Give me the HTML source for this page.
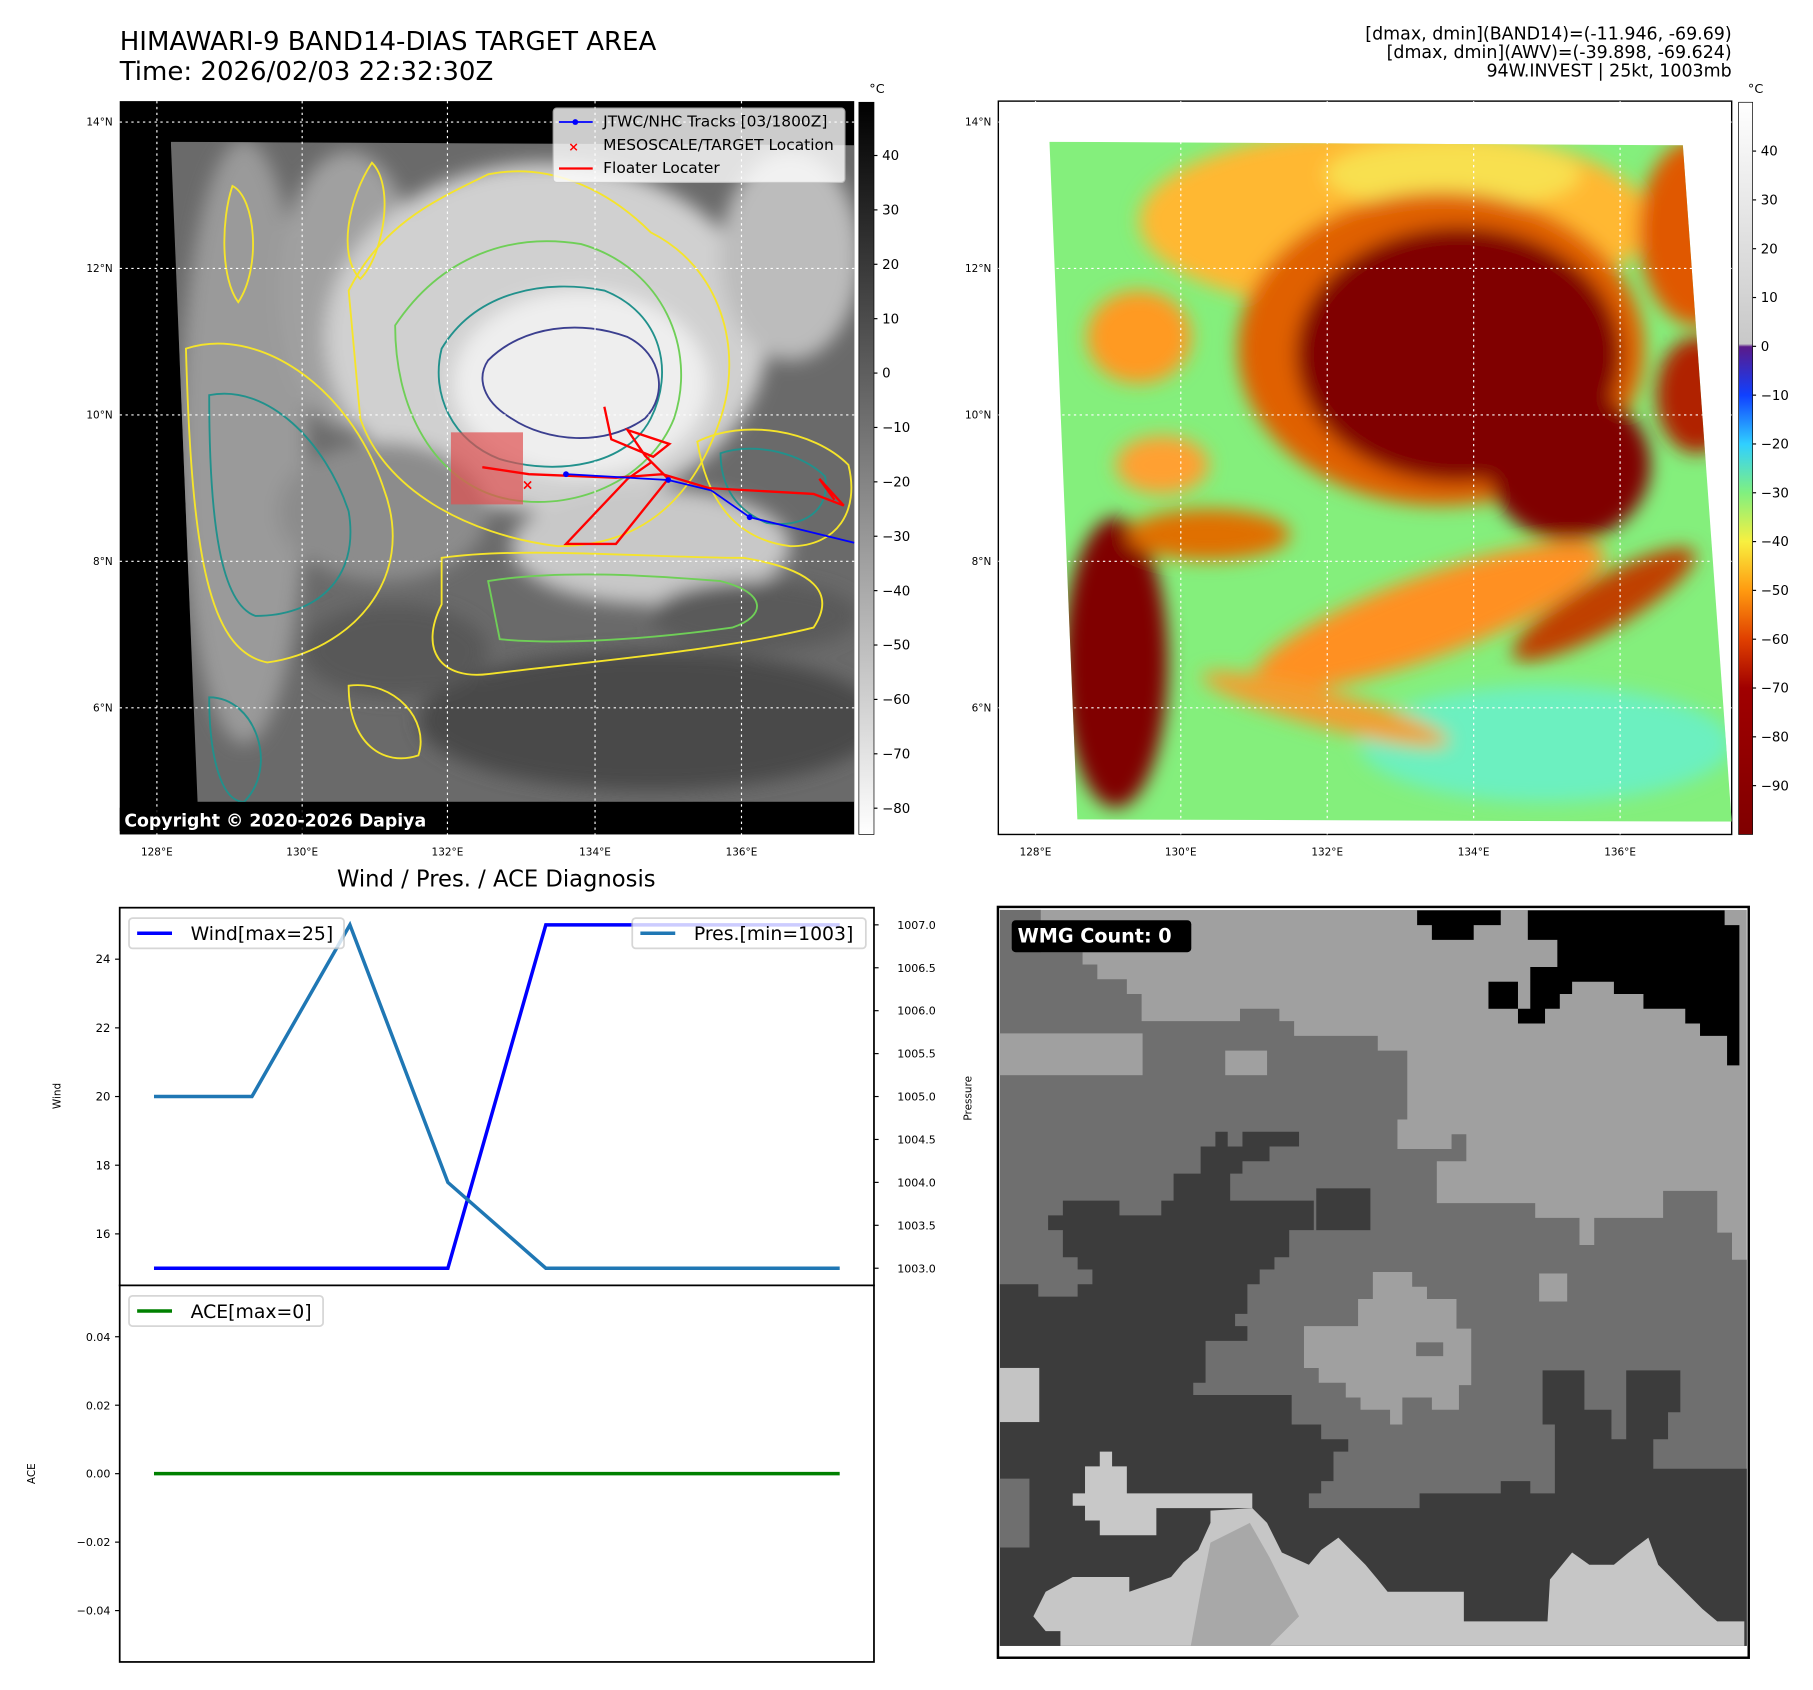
<!DOCTYPE html>
<html><head><meta charset="utf-8"><style>
html,body{margin:0;padding:0;background:#fff}
svg{display:block;font-family:"DejaVu Sans","Liberation Sans",sans-serif}
</style></head><body>
<svg id="root" width="1813" height="1690" viewBox="0 0 1813 1690">
<defs>
<filter id="blur8" x="-20%" y="-20%" width="140%" height="140%"><feGaussianBlur stdDeviation="8"/></filter>
<clipPath id="clipL"><polygon points="147,122 735,125 735,690 170,690"/></clipPath>
<clipPath id="clipR"><polygon points="903,122 1448,125 1490,707 927,705"/></clipPath>
<linearGradient id="cbL" x1="0" y1="0" x2="0" y2="1"><stop offset="0" stop-color="#000"/><stop offset="1" stop-color="#fff"/></linearGradient>
<linearGradient id="cbR" x1="0" y1="0" x2="0" y2="1">
<stop offset="0" stop-color="#ffffff"/><stop offset="0.33" stop-color="#c8c8c8"/>
<stop offset="0.334" stop-color="#5a1a8a"/><stop offset="0.4" stop-color="#1040ff"/>
<stop offset="0.467" stop-color="#30d0ff"/><stop offset="0.533" stop-color="#80f080"/>
<stop offset="0.6" stop-color="#f8f040"/><stop offset="0.667" stop-color="#ff9a10"/>
<stop offset="0.733" stop-color="#e04000"/><stop offset="0.8" stop-color="#a00000"/>
<stop offset="1" stop-color="#800000"/></linearGradient>
</defs>
<g transform="scale(1.1622)">
<text x="103" y="43" font-size="22.4">HIMAWARI-9 BAND14-DIAS TARGET AREA</text>
<text x="103" y="69" font-size="22.4">Time: 2026/02/03 22:32:30Z</text>
<g font-size="15" text-anchor="end">
<text x="1490" y="34">[dmax, dmin](BAND14)=(-11.946, -69.69)</text>
<text x="1490" y="50">[dmax, dmin](AWV)=(-39.898, -69.624)</text>
<text x="1490" y="66">94W.INVEST | 25kt, 1003mb</text>
</g>

<!-- LEFT MAP -->
<g>
<rect x="103" y="87" width="632" height="631" fill="#000"/>
<g clip-path="url(#clipL)">
<rect x="140" y="110" width="600" height="600" fill="#6a6a6a"/>
<g filter="url(#blur8)">
<ellipse cx="210" cy="380" rx="55" ry="260" fill="#9a9a9a"/>
<ellipse cx="300" cy="250" rx="60" ry="120" fill="#a0a0a0"/>
<ellipse cx="470" cy="290" rx="190" ry="150" fill="#d0d0d0"/>
<ellipse cx="500" cy="330" rx="110" ry="80" fill="#eeeeee"/>
<ellipse cx="680" cy="220" rx="60" ry="90" fill="#bcbcbc"/>
<ellipse cx="560" cy="470" rx="120" ry="50" fill="#c8c8c8"/>
<ellipse cx="330" cy="440" rx="90" ry="60" fill="#8c8c8c"/>
<ellipse cx="560" cy="620" rx="200" ry="60" fill="#484848"/>
<ellipse cx="340" cy="560" rx="80" ry="40" fill="#585858"/>
<ellipse cx="650" cy="530" rx="90" ry="30" fill="#5a5a5a"/>
</g>
<g fill="none" stroke-width="1.6">
<path d="M300,250 C330,190 380,170 420,150 C470,140 520,160 560,200 C620,230 640,300 620,360 C600,420 560,470 480,470 C400,460 330,420 310,360 Z" stroke="#f5e42a"/>
<path d="M340,280 C380,220 440,200 500,210 C570,230 600,300 580,360 C560,410 500,440 440,430 C380,420 340,360 340,280 Z" stroke="#6fcf57"/>
<path d="M380,300 C410,250 470,240 520,250 C570,270 580,320 560,360 C540,400 480,410 430,395 C390,380 370,340 380,300 Z" stroke="#21918c"/>
<path d="M420,310 C450,280 500,275 540,290 C570,305 575,340 555,360 C520,385 470,380 440,360 C415,345 410,325 420,310 Z" stroke="#3b3f8f"/>
<path d="M160,300 C220,280 300,330 330,420 C360,500 300,560 230,570 C180,560 165,480 160,300 Z" stroke="#f5e42a"/>
<path d="M180,340 C230,330 280,380 300,440 C310,500 270,530 220,530 C190,520 180,450 180,340 Z" stroke="#21918c"/>
<path d="M380,480 C450,470 560,480 640,480 C700,490 720,510 700,540 C620,560 500,570 420,580 C380,585 360,560 380,520 Z" stroke="#f5e42a"/>
<path d="M420,500 C480,490 560,495 620,500 C660,510 660,530 630,540 C560,550 480,555 430,550 Z" stroke="#6fcf57"/>
<path d="M600,380 C640,360 700,370 730,400 C740,440 720,470 680,470 C640,465 610,440 600,380 Z" stroke="#f5e42a"/>
<path d="M620,390 C650,380 690,390 710,410 C715,440 690,455 660,450 C635,440 620,420 620,390 Z" stroke="#21918c"/>
<path d="M300,590 C340,585 370,620 360,650 C330,660 300,640 300,590 Z" stroke="#f5e42a"/>
<path d="M180,600 C220,600 240,660 210,690 C190,690 180,650 180,600 Z" stroke="#21918c"/>
<path d="M320,140 C340,160 330,220 310,240 C290,220 300,170 320,140 Z" stroke="#f5e42a"/>
<path d="M200,160 C220,170 225,230 205,260 C190,240 190,190 200,160 Z" stroke="#f5e42a"/>
</g>
</g>
<g stroke="#fff" stroke-width="1" stroke-dasharray="2,3">
<line x1="135" y1="87" x2="135" y2="718"/><line x1="260" y1="87" x2="260" y2="718"/><line x1="385" y1="87" x2="385" y2="718"/><line x1="512" y1="87" x2="512" y2="718"/><line x1="638" y1="87" x2="638" y2="718"/>
<line x1="103" y1="105" x2="735" y2="105"/><line x1="103" y1="231" x2="735" y2="231"/><line x1="103" y1="357" x2="735" y2="357"/><line x1="103" y1="483" x2="735" y2="483"/><line x1="103" y1="609" x2="735" y2="609"/>
</g>
<rect x="388" y="372" width="62" height="62" fill="#e05050" opacity="0.7"/>
<polyline points="415,402 455,408 530,411 570,408 610,420 700,425 726,435 705,412 718,430" fill="none" stroke="#f00" stroke-width="2"/>
<polyline points="520,350 526,378 562,393 576,382 540,370 555,392 575,412 530,468 487,468 540,412 560,398" fill="none" stroke="#f00" stroke-width="2"/>
<polyline points="487,408 575,413 612,422 645,445 735,467" fill="none" stroke="#00f" stroke-width="1.5"/>
<circle cx="487" cy="408" r="2.5" fill="#00f"/><circle cx="575" cy="413" r="2.5" fill="#00f"/><circle cx="645" cy="445" r="2.5" fill="#00f"/>
<text x="449" y="421" fill="#f00" font-size="12" font-weight="bold">×</text>
<rect x="103" y="695" width="270" height="20" fill="#000" opacity="0.8"/>
<text x="107" y="711" fill="#fff" font-size="14.9" font-weight="bold">Copyright © 2020-2026 Dapiya</text>
<g>
<rect x="476" y="93" width="251" height="64" rx="3" fill="#fff" opacity="0.8" stroke="#ccc"/>
<line x1="481" y1="105" x2="510" y2="105" stroke="#00f" stroke-width="1.5"/><circle cx="495" cy="105" r="2.5" fill="#00f"/>
<text x="519" y="109" font-size="13.3">JTWC/NHC Tracks [03/1800Z]</text>
<text x="489" y="130" font-size="11" fill="#f00" font-weight="bold">×</text>
<text x="519" y="129" font-size="13.3">MESOSCALE/TARGET Location</text>
<line x1="481" y1="145" x2="510" y2="145" stroke="#f00" stroke-width="2"/>
<text x="519" y="149" font-size="13.3">Floater Locater</text>
</g>
</g>
<g font-size="9">
<g text-anchor="middle"><text x="135" y="736">128°E</text><text x="260" y="736">130°E</text><text x="385" y="736">132°E</text><text x="512" y="736">134°E</text><text x="638" y="736">136°E</text></g>
<g text-anchor="end"><text x="97" y="108">14°N</text><text x="97" y="234">12°N</text><text x="97" y="360">10°N</text><text x="97" y="486">8°N</text><text x="97" y="612">6°N</text></g>
</g>
<g>
<rect x="739" y="88" width="13" height="630" fill="url(#cbL)" stroke="#000" stroke-width="0.6"/>
<text x="748" y="80" font-size="11">°C</text>
<g font-size="11.5" id="cbLticks"></g>
</g>

<!-- RIGHT MAP -->
<g>
<rect x="859" y="87" width="631" height="631" fill="#fff" stroke="#000" stroke-width="1.2"/>
<g clip-path="url(#clipR)">
<rect x="900" y="110" width="600" height="610" fill="#84ef7c"/>
<g filter="url(#blur8)">
<ellipse cx="1330" cy="640" rx="160" ry="50" fill="#6cf0c0"/>
<ellipse cx="1200" cy="190" rx="220" ry="80" fill="#ffb830"/>
<ellipse cx="1250" cy="150" rx="110" ry="30" fill="#f8e050"/>
<ellipse cx="980" cy="290" rx="45" ry="40" fill="#ff9a20"/>
<ellipse cx="1000" cy="400" rx="40" ry="25" fill="#ffa030"/>
<ellipse cx="1240" cy="300" rx="175" ry="135" fill="#e06000"/>
<ellipse cx="1255" cy="305" rx="140" ry="110" fill="#800000"/>
<ellipse cx="1350" cy="400" rx="70" ry="65" fill="#800000"/>
<ellipse cx="1460" cy="200" rx="50" ry="80" fill="#e05800"/>
<ellipse cx="1460" cy="340" rx="35" ry="50" fill="#b02000"/>
<ellipse cx="1230" cy="530" rx="160" ry="35" fill="#ff9020" transform="rotate(-20 1230 530)"/>
<ellipse cx="1140" cy="610" rx="110" ry="16" fill="#f0a030" transform="rotate(15 1140 610)"/>
<ellipse cx="960" cy="570" rx="45" ry="125" fill="#800000"/>
<ellipse cx="1040" cy="460" rx="70" ry="22" fill="#e07000"/>
<ellipse cx="1380" cy="520" rx="90" ry="22" fill="#c04000" transform="rotate(-30 1380 520)"/>
</g>
</g>
<g stroke="#fff" stroke-width="1" stroke-dasharray="2,3">
<line x1="891" y1="87" x2="891" y2="718"/><line x1="1016" y1="87" x2="1016" y2="718"/><line x1="1142" y1="87" x2="1142" y2="718"/><line x1="1268" y1="87" x2="1268" y2="718"/><line x1="1394" y1="87" x2="1394" y2="718"/>
<line x1="859" y1="105" x2="1490" y2="105"/><line x1="859" y1="231" x2="1490" y2="231"/><line x1="859" y1="357" x2="1490" y2="357"/><line x1="859" y1="483" x2="1490" y2="483"/><line x1="859" y1="609" x2="1490" y2="609"/>
</g>
</g>
<g font-size="9">
<g text-anchor="middle"><text x="891" y="736">128°E</text><text x="1016" y="736">130°E</text><text x="1142" y="736">132°E</text><text x="1268" y="736">134°E</text><text x="1394" y="736">136°E</text></g>
<g text-anchor="end"><text x="853" y="108">14°N</text><text x="853" y="234">12°N</text><text x="853" y="360">10°N</text><text x="853" y="486">8°N</text><text x="853" y="612">6°N</text></g>
</g>
<g>
<rect x="1496" y="88" width="12" height="630" fill="url(#cbR)" stroke="#000" stroke-width="0.6"/>
<text x="1504" y="80" font-size="11">°C</text>
<g font-size="11.5" id="cbRticks"></g>
</g>

<text x="427" y="763" font-size="19.5" text-anchor="middle">Wind / Pres. / ACE Diagnosis</text>
<g id="chart"></g>
</g>

<!-- BOTTOM RIGHT WMG PANEL -->
<g transform="translate(994,903) scale(0.492)">
<rect x="8" y="8" width="1526" height="1526" fill="#fff" stroke="#000" stroke-width="5"/>
<rect x="12" y="14" width="1518" height="1496" fill="#a0a0a0"/>
<polygon fill="#6f6f6f" points="12,14 95,14 95,100 180,100 180,125 210,125 210,155 270,155 270,185 300,185 300,240 500,240 500,215 580,215 580,240 610,240 610,270 780,270 780,300 840,300 840,440 820,440 820,500 930,500 930,470 960,470 960,525 900,525 900,610 1100,610 1100,640 1190,640 1190,695 1220,695 1220,640 1360,640 1360,585 1470,585 1470,670 1500,670 1500,725 1530,725 1530,1510 12,1510"/>
<rect x="12" y="265" width="290" height="85" fill="#a0a0a0"/>
<rect x="470" y="300" width="85" height="50" fill="#a0a0a0"/>
<polygon fill="#a0a0a0" points="630,860 740,860 740,805 770,805 770,750 850,750 850,780 880,780 880,805 940,805 940,865 970,865 970,980 945,980 945,1030 890,1030 890,1005 830,1005 830,1060 805,1060 805,1030 745,1030 745,1005 715,1005 715,975 660,975 660,945 630,945"/>
<rect x="858" y="893" width="55" height="28" fill="#6f6f6f"/>
<rect x="1108" y="753" width="57" height="57" fill="#a0a0a0"/>
<polygon fill="#3c3c3c" points="12,775 90,775 90,800 170,800 170,775 200,775 200,745 170,745 170,720 140,720 140,665 110,665 110,635 140,635 140,605 255,605 255,635 340,635 340,605 365,605 365,550 420,550 420,495 450,495 450,465 475,465 475,495 505,495 505,465 620,465 620,495 560,495 560,525 505,525 505,550 480,550 480,605 650,605 650,665 600,665 600,720 570,720 570,745 540,745 540,775 515,775 515,835 490,835 490,860 515,860 515,890 430,890 430,975 405,975 405,1000 605,1000 605,1060 665,1060 665,1090 720,1090 720,1115 690,1115 690,1175 665,1175 665,1200 640,1200 640,1230 865,1230 865,1200 1030,1200 1030,1175 1090,1175 1090,1200 1140,1200 1140,1060 1115,1060 1115,950 1200,950 1200,1030 1255,1030 1255,1090 1285,1090 1285,950 1395,950 1395,1035 1370,1035 1370,1090 1340,1090 1340,1150 1530,1150 1530,1510 12,1510"/>
<rect x="655" y="580" width="110" height="85" fill="#3c3c3c"/>
<rect x="12" y="1170" width="60" height="140" fill="#6f6f6f"/>
<rect x="12" y="945" width="80" height="110" fill="#c4c4c4"/>
<polygon fill="#c8c8c8" points="185,1145 215,1145 215,1115 240,1115 240,1145 270,1145 270,1200 525,1200 525,1230 330,1230 330,1285 215,1285 215,1255 185,1255 185,1225 160,1225 160,1200 185,1200"/>
<polygon fill="#c6c6c6" points="80,1450 105,1400 160,1370 275,1370 275,1400 360,1370 385,1340 415,1315 440,1260 440,1235 525,1230 555,1260 585,1320 640,1345 665,1315 700,1290 725,1315 755,1345 780,1375 800,1400 955,1400 955,1460 1125,1460 1130,1375 1175,1320 1210,1345 1260,1345 1290,1320 1330,1290 1350,1345 1380,1375 1410,1405 1440,1435 1470,1460 1525,1460 1525,1510 135,1510 135,1480 105,1480"/>
<polygon fill="#a8a8a8" points="440,1300 520,1260 560,1330 620,1450 560,1510 400,1510 420,1400"/>
<polygon fill="#000" points="860,15 1030,15 1030,45 975,45 975,75 890,75 890,45 860,45"/>
<polygon fill="#000" points="1085,15 1485,15 1485,45 1515,45 1515,330 1490,330 1490,270 1435,270 1435,245 1405,245 1405,215 1320,215 1320,185 1260,185 1260,160 1175,160 1175,185 1150,185 1150,215 1120,215 1120,245 1065,245 1065,215 1090,215 1090,130 1145,130 1145,75 1085,75"/>
<rect x="1005" y="160" width="60" height="55" fill="#000"/>
<rect x="36" y="35" width="365" height="65" rx="8" fill="#000"/>
<text x="48" y="80" fill="#fff" font-size="39" font-weight="bold">WMG Count: 0</text>
</g>
</svg>
<script>
const NS='http://www.w3.org/2000/svg';
const xIdx=[0,1,2,3,4,5,6,7];
const windVals=[15,15,15,15,25,25,25,25];
const presVals=[1005,1005,1007,1004,1003,1003,1003,1003];
const aceVals=[0,0,0,0,0,0,0,0];
const windTicks=[16,18,20,22,24];
const presTicks=[1003.0,1003.5,1004.0,1004.5,1005.0,1005.5,1006.0,1006.5,1007.0];
const aceTicks=[-0.04,-0.02,0.00,0.02,0.04];
const cbLTicks=[40,30,20,10,0,-10,-20,-30,-40,-50,-60,-70,-80];
const cbRTicks=[40,30,20,10,0,-10,-20,-30,-40,-50,-60,-70,-80,-90];

function mk(tag,attrs,parent){const e=document.createElementNS(NS,tag);for(const k in attrs)e.setAttribute(k,attrs[k]);parent.appendChild(e);return e;}
const chart=document.getElementById('chart');
const L=103,R=752,T1=781,B1=1106,T2=1106,B2=1430;
const xs=i=>L+(i+0.35)*(R-L)/7.7;
const yW=v=>B1-(v-14.5)*(B1-T1)/11;
const yP=v=>B1-(v-1002.8)*(B1-T1)/4.4;
const yA=v=>B2-(v+0.055)*(B2-T2)/0.11;

let f=mk('rect',{x:L,y:T1,width:R-L,height:B1-T1,fill:'#fff',stroke:'#000','stroke-width':1.5},chart);


f=mk('rect',{x:L,y:T2,width:R-L,height:B2-T2,fill:'#fff',stroke:'#000','stroke-width':1.5},chart);



windTicks.forEach(v=>{const y=yW(v);mk('line',{x1:L-4,y1:y,x2:L,y2:y,stroke:'#000'},chart);
 const t=mk('text',{x:L-8,y:y+3.5,'font-size':10,'text-anchor':'end'},chart);t.textContent=v;
 
 });
presTicks.forEach(v=>{const y=yP(v);mk('line',{x1:R,y1:y,x2:R+4,y2:y,stroke:'#000'},chart);
 const t=mk('text',{x:R+20,y:y+3.5,'font-size':9.5},chart);t.textContent=v.toFixed(1);
 
 });
aceTicks.forEach(v=>{const y=yA(v);mk('line',{x1:L-4,y1:y,x2:L,y2:y,stroke:'#000'},chart);
 const t=mk('text',{x:L-8,y:y+3.5,'font-size':9.5,'text-anchor':'end'},chart);t.textContent=(v<0?'\u22120.0':'0.0')+Math.abs(Math.round(v*100));
 if(v===0)t.textContent='0.00';
 
 });
let t=mk('text',{x:52,y:943,'font-size':9,'text-anchor':'middle',transform:'rotate(-90 52 943)'},chart);t.textContent='Wind';

t=mk('text',{x:836,y:945,'font-size':9,'text-anchor':'middle',transform:'rotate(-90 836 945)'},chart);t.textContent='Pressure';

t=mk('text',{x:30,y:1268,'font-size':9,'text-anchor':'middle',transform:'rotate(-90 30 1268)'},chart);t.textContent='ACE';


let p=mk('polyline',{points:xIdx.map(i=>xs(i)+','+yW(windVals[i])).join(' '),fill:'none',stroke:'#0000ff','stroke-width':3},chart);

p=mk('polyline',{points:xIdx.map(i=>xs(i)+','+yP(presVals[i])).join(' '),fill:'none',stroke:'#1f77b4','stroke-width':3},chart);

p=mk('polyline',{points:xIdx.map(i=>xs(i)+','+yA(aceVals[i])).join(' '),fill:'none',stroke:'#008000','stroke-width':3},chart);


function legend(x,y,w,color,label,name){const g=mk('g',{},chart);
 
 mk('rect',{x:x,y:y,width:w,height:26,rx:3,fill:'#fff',opacity:0.8,stroke:'#ccc','stroke-width':1.5},g);
 mk('line',{x1:x+7,y1:y+13,x2:x+37,y2:y+13,stroke:color,'stroke-width':3},g);
 const tt=mk('text',{x:x+53,y:y+19,'font-size':16.2},g);tt.textContent=label;}
legend(111,790,185,'#0000ff','Wind[max=25]','wind-legend');
legend(544,790,201,'#1f77b4','Pres.[min=1003]','pressure-legend');
legend(111,1115,167,'#008000','ACE[max=0]','ace-legend');

const cbL=document.getElementById('cbLticks');
cbLTicks.forEach(v=>{const y=321-v*4.68;mk('line',{x1:752,y1:y,x2:755,y2:y,stroke:'#000'},cbL);
 const e=mk('text',{x:759,y:y+4},cbL);e.textContent=v<0?'\u2212'+(-v):v;
 });
const cbR=document.getElementById('cbRticks');
cbRTicks.forEach(v=>{const y=298-v*4.2;mk('line',{x1:1508,y1:y,x2:1511,y2:y,stroke:'#000'},cbR);
 const e=mk('text',{x:1515,y:y+4},cbR);e.textContent=v<0?'\u2212'+(-v):v;
 });
</script>
</body></html>
